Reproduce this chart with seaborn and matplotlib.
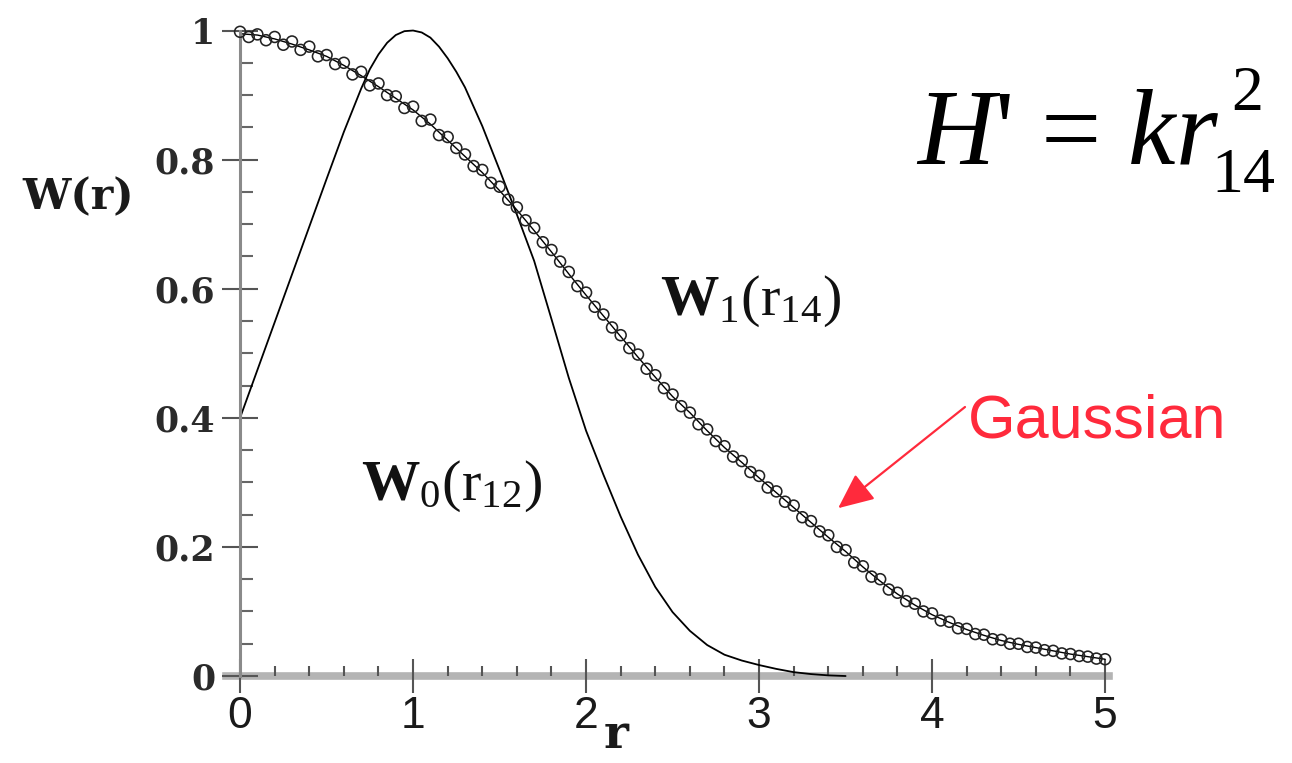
import matplotlib
matplotlib.use("Agg")
import matplotlib.pyplot as plt
from matplotlib.ticker import MultipleLocator
import numpy as np
import pandas as pd
import seaborn as sns

# ---- data -------------------------------------------------------------
# W0(r12): single-particle weight function
r_w0 = [0.0, 0.1, 0.2, 0.3, 0.4, 0.5, 0.6, 0.7, 0.75, 0.8, 0.85, 0.9, 0.95, 1.0,
        1.05, 1.1, 1.15, 1.2, 1.25, 1.3, 1.4, 1.5, 1.6, 1.7, 1.8, 1.9, 2.0,
        2.1, 2.2, 2.3, 2.4, 2.5, 2.6, 2.7, 2.8, 2.9, 3.0,
        3.1, 3.2, 3.3, 3.4, 3.5]
w0 = [0.400, 0.474, 0.548, 0.622, 0.696, 0.770, 0.843, 0.910, 0.940, 0.963, 0.981, 0.993, 0.999, 1.000,
      0.997, 0.989, 0.975, 0.957, 0.936, 0.912, 0.852, 0.784, 0.715, 0.643, 0.553, 0.462, 0.380,
      0.312, 0.247, 0.188, 0.138, 0.099, 0.070, 0.048, 0.033, 0.024, 0.017,
      0.011, 0.006, 0.003, 0.001, 0.000]

# W1(r14): weight function of the perturbed problem
r_w1 = [0.0, 0.1, 0.2, 0.3, 0.4, 0.5, 0.6, 0.7, 0.8, 0.9, 1.0,
        1.1, 1.2, 1.3, 1.4, 1.5, 1.6, 1.7, 1.8, 1.9, 2.0,
        2.1, 2.2, 2.3, 2.4, 2.5, 2.6, 2.7, 2.8, 2.9, 3.0,
        3.1, 3.2, 3.3, 3.4, 3.5, 3.6, 3.7, 3.8, 3.9, 4.0,
        4.1, 4.2, 4.3, 4.4, 4.5, 4.6, 4.7, 4.8, 4.9, 5.0]
w1 = [0.995, 0.993, 0.987, 0.979, 0.970, 0.960, 0.946, 0.930, 0.913, 0.895, 0.877,
      0.855, 0.830, 0.805, 0.780, 0.752, 0.722, 0.690, 0.657, 0.623, 0.590,
      0.558, 0.526, 0.494, 0.463, 0.433, 0.408, 0.380, 0.354, 0.331, 0.307,
      0.284, 0.261, 0.238, 0.215, 0.193, 0.169, 0.147, 0.127, 0.110, 0.095,
      0.083, 0.072, 0.063, 0.055, 0.049, 0.044, 0.039, 0.034, 0.030, 0.026]

# Gaussian sample points
r_pts = [0.00, 0.05, 0.10, 0.15, 0.20, 0.25, 0.30, 0.35, 0.40, 0.45,
         0.50, 0.55, 0.60, 0.65, 0.70, 0.75, 0.80, 0.85, 0.90, 0.95,
         1.00, 1.05, 1.10, 1.15, 1.20, 1.25, 1.30, 1.35, 1.40, 1.45,
         1.50, 1.55, 1.60, 1.65, 1.70, 1.75, 1.80, 1.85, 1.90, 1.95,
         2.00, 2.05, 2.10, 2.15, 2.20, 2.25, 2.30, 2.35, 2.40, 2.45,
         2.50, 2.55, 2.60, 2.65, 2.70, 2.75, 2.80, 2.85, 2.90, 2.95,
         3.00, 3.05, 3.10, 3.15, 3.20, 3.25, 3.30, 3.35, 3.40, 3.45,
         3.50, 3.55, 3.60, 3.65, 3.70, 3.75, 3.80, 3.85, 3.90, 3.95,
         4.00, 4.05, 4.10, 4.15, 4.20, 4.25, 4.30, 4.35, 4.40, 4.45,
         4.50, 4.55, 4.60, 4.65, 4.70, 4.75, 4.80, 4.85, 4.90, 4.95, 5.00]
gauss_pts = [0.998, 0.990, 0.994, 0.985, 0.990, 0.978, 0.983, 0.970, 0.975, 0.960,
             0.962, 0.948, 0.950, 0.932, 0.936, 0.915, 0.918, 0.900, 0.898, 0.880,
             0.882, 0.860, 0.862, 0.838, 0.835, 0.818, 0.808, 0.790, 0.784, 0.764,
             0.758, 0.738, 0.726, 0.706, 0.694, 0.672, 0.660, 0.642, 0.626, 0.604,
             0.594, 0.572, 0.560, 0.540, 0.528, 0.508, 0.498, 0.476, 0.466, 0.446,
             0.436, 0.418, 0.408, 0.390, 0.382, 0.364, 0.356, 0.340, 0.333, 0.316,
             0.310, 0.292, 0.286, 0.270, 0.264, 0.246, 0.240, 0.224, 0.218, 0.200,
             0.195, 0.176, 0.170, 0.154, 0.150, 0.134, 0.129, 0.116, 0.112, 0.100,
             0.097, 0.086, 0.084, 0.074, 0.073, 0.065, 0.064, 0.057, 0.056, 0.050,
             0.050, 0.045, 0.044, 0.040, 0.039, 0.035, 0.034, 0.031, 0.030, 0.027, 0.026]

x_ticks = [0, 1, 2, 3, 4, 5]
x_tick_labels = ["0", "1", "2", "3", "4", "5"]
y_ticks = [0.0, 0.2, 0.4, 0.6, 0.8, 1.0]
y_tick_labels = ["0", "0.2", "0.4", "0.6", "0.8", "1"]

# ---- style ------------------------------------------------------------
sns.set_theme(style="white")
plt.rcParams["font.family"] = ["Liberation Serif", "DejaVu Serif"]
plt.rcParams["mathtext.fontset"] = "custom"
plt.rcParams["mathtext.rm"] = "Liberation Serif"
plt.rcParams["mathtext.it"] = "Liberation Serif:italic"
plt.rcParams["mathtext.bf"] = "Liberation Serif:bold"

RED = "#ff2a3c"

fig = plt.figure(figsize=(12.92, 7.63), dpi=100)
ax = fig.add_axes([0.1751, 0.1140, 0.6829, 0.846])

# ---- curves -----------------------------------------------------------
sns.lineplot(x=r_w0, y=w0, ax=ax, color="black", lw=1.3, clip_on=False)
sns.lineplot(x=r_w1, y=w1, ax=ax, color="black", lw=1.0, clip_on=False)
sns.scatterplot(x=r_pts, y=gauss_pts, ax=ax, marker="o", s=62,
                color="#222222", facecolor="none", edgecolor="#222222",
                linewidth=1.15, clip_on=False, zorder=3)

# ---- axes -------------------------------------------------------------
ax.set_xlim(-0.08, 5.02)
ax.set_ylim(0, 1)
for side in ("top", "right"):
    ax.spines[side].set_visible(False)
ax.spines["left"].set_position(("data", 0))
ax.spines["left"].set_bounds(0, 1)
ax.spines["left"].set_color("#8a8a8a")
ax.spines["left"].set_linewidth(2.2)
ax.spines["bottom"].set_color("#b4b4b4")
ax.spines["bottom"].set_linewidth(5.5)
ax.spines["bottom"].set_zorder(0.5)

ax.set_xticks(x_ticks, x_tick_labels)
ax.set_yticks(y_ticks, y_tick_labels)
ax.xaxis.set_minor_locator(MultipleLocator(0.2))
ax.yaxis.set_minor_locator(MultipleLocator(0.05))
ax.tick_params(which="both", bottom=True, left=True)
ax.tick_params(axis="x", which="major", direction="inout", length=25,
               width=1.5, color="#555555", pad=2, labelsize=32,
               labelcolor="#1a1a1a")
ax.tick_params(axis="x", which="minor", direction="in", length=7,
               width=1.5, color="#555555")
ax.tick_params(axis="y", which="major", direction="inout", length=26,
               width=1.5, color="#555555", pad=5, labelsize=25,
               labelcolor="#2a2a2a")
ax.tick_params(axis="y", which="minor", direction="in", length=9,
               width=1.5, color="#666666")
for lab in ax.get_xticklabels():
    lab.set_fontfamily("Liberation Sans")
for lab in ax.get_yticklabels():
    lab.set_fontfamily("DejaVu Serif")
    lab.set_fontweight("bold")

ax.set_ylabel("W(r)", rotation=0, fontfamily="DejaVu Serif",
              fontweight="bold", fontsize=31, color="#1a1a1a")
ax.yaxis.set_label_coords(-0.168, 0.742)
ax.yaxis.label.set_va("center")
ax.yaxis.label.set_ha("center")

ax.set_xlabel("r", fontfamily="DejaVu Serif", fontweight="bold",
              fontsize=34, color="#1a1a1a")
ax.xaxis.set_label_coords(0.4418, -0.112)
ax.xaxis.label.set_va("baseline")

# ---- curve labels -----------------------------------------------------
ax.text(2.43, 0.559, r"$\mathbf{W}_{1}(\mathrm{r}_{14})$", fontsize=42,
        ha="left", va="baseline", color="#111111")
ax.text(0.70, 0.273, r"$\mathbf{W}_{0}(\mathrm{r}_{12})$", fontsize=42,
        ha="left", va="baseline", color="#111111")

# ---- Hamiltonian: main part, then subscript and superscript ------------
main = fig.text(916 / 1292, 1 - 163 / 763, r"$H$' = $kr$", fontsize=77,
                fontfamily="Liberation Serif", va="baseline", ha="left",
                color="black")
fig.canvas.draw()
bb = main.get_window_extent()
W_PX = fig.bbox.width
fig.text((bb.x1 - 8) / W_PX, 1 - 192 / 763, "14", fontsize=46,
         fontfamily="Liberation Serif", va="baseline", ha="left", color="black")
fig.text((bb.x1 + 12) / W_PX, 1 - 110 / 763, "2", fontsize=46,
         fontfamily="Liberation Serif", va="baseline", ha="left", color="black")

fig.text(968 / 1292, 1 - 437 / 763, "Gaussian", color=RED, fontsize=44,
         fontfamily="Liberation Sans", va="baseline", ha="left")
ax.annotate("", xy=(3.457, 0.26), xycoords="data",
            xytext=(965, 763 - 407), textcoords="figure pixels",
            arrowprops=dict(arrowstyle="-|>,head_length=1.0,head_width=0.45",
                            color=RED, lw=1.6, mutation_scale=22,
                            shrinkA=0, shrinkB=0))

fig.savefig("out.png", dpi=100)
